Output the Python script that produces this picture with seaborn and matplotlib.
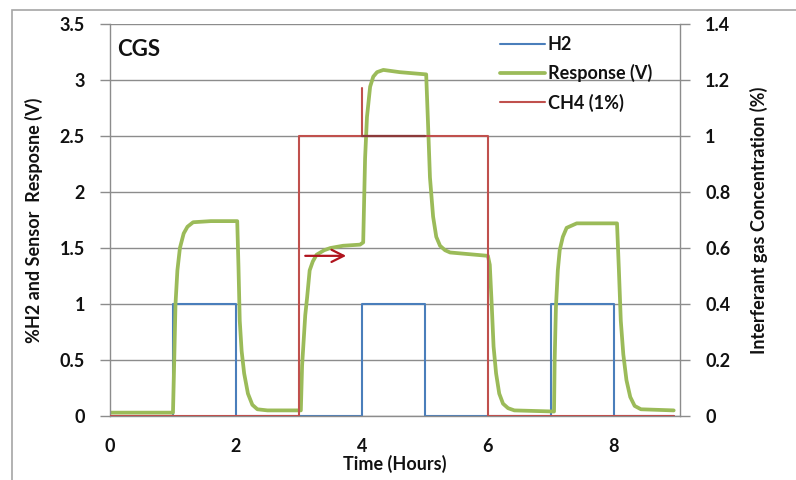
import matplotlib
matplotlib.use("Agg")
import matplotlib.pyplot as plt
from matplotlib.patches import Rectangle
from matplotlib.ticker import FixedLocator, FixedFormatter
import seaborn as sns
import pandas as pd

# ---------------- data ----------------
h2_time = [0.0, 1.0, 1.0, 2.0, 2.0, 4.0, 4.0, 5.0, 5.0, 7.0, 7.0, 8.0, 8.0, 8.95]
h2_value = [0, 0, 1, 1, 0, 0, 1, 1, 0, 0, 1, 1, 0, 0]

resp_time = [0.0, 1.0, 1.02, 1.04, 1.07, 1.11, 1.17, 1.23, 1.32, 1.6, 2.02,
             2.04, 2.06, 2.09, 2.13, 2.19, 2.26, 2.34, 2.5, 3.03,
             3.05, 3.1, 3.13, 3.17, 3.22, 3.28, 3.4, 3.5, 3.7, 3.97, 4.02,
             4.05, 4.08, 4.13, 4.18, 4.24, 4.34, 4.6, 5.02,
             5.05, 5.08, 5.13, 5.18, 5.24, 5.32, 5.4, 6.0,
             6.03, 6.06, 6.09, 6.13, 6.18, 6.24, 6.32, 6.42, 7.05,
             7.06, 7.08, 7.11, 7.14, 7.19, 7.25, 7.41, 8.05,
             8.08, 8.11, 8.15, 8.2, 8.26, 8.33, 8.43, 8.95]
resp_value = [0.03, 0.03, 0.5, 1.0, 1.3, 1.5, 1.63, 1.69, 1.73, 1.74, 1.74,
              1.33, 0.85, 0.58, 0.38, 0.2, 0.1, 0.06, 0.05, 0.05,
              0.45, 0.9, 1.06, 1.3, 1.38, 1.44, 1.48, 1.50, 1.52, 1.53, 1.55,
              2.3, 2.67, 2.94, 3.03, 3.07, 3.09, 3.07, 3.05,
              2.6, 2.13, 1.78, 1.6, 1.52, 1.48, 1.46, 1.43,
              1.35, 1.0, 0.62, 0.38, 0.2, 0.11, 0.07, 0.05, 0.04,
              0.5, 0.97, 1.3, 1.48, 1.6, 1.68, 1.72, 1.72,
              1.3, 0.85, 0.55, 0.32, 0.17, 0.09, 0.06, 0.05]

ch4_time = [0.0, 3.0, 3.0, 6.0, 6.0, 8.95]
ch4_value = [0, 0, 1.0, 1.0, 0, 0]

# annotation marks (right-axis units for CH4 marker, left-axis for arrow)
marker_v_time = [4.0, 4.0]
marker_v_value = [1.0, 1.17]
marker_h_time = [4.0, 5.0]
marker_h_value = [1.0, 1.0]
arrow_time = [3.1, 3.75]
arrow_value = [1.43, 1.43]

left_ticks = [0, 0.5, 1, 1.5, 2, 2.5, 3, 3.5]
left_labels = ["0", "0.5", "1", "1.5", "2", "2.5", "3", "3.5"]
right_ticks = [0, 0.2, 0.4, 0.6, 0.8, 1.0, 1.2, 1.4]
right_labels = ["0", "0.2", "0.4", "0.6", "0.8", "1", "1.2", "1.4"]
x_ticks = [0, 2, 4, 6, 8]
x_labels = ["0", "2", "4", "6", "8"]

labels = ["H2", "Response (V)", "CH4 (1%)"]

# ---------------- style ----------------
sns.set_style("white")
plt.rcParams["font.family"] = ["Lato", "DejaVu Sans"]
plt.rcParams["font.weight"] = "bold"

BLUE = "#4A7EBB"
GREEN = "#9BBB59"
RED = "#C0504D"
DARKRED = "#8C3A3A"
GRID = "#8C8C8C"
TXT = "#111111"
FS = 13

fig = plt.figure(figsize=(7.96, 4.80), dpi=100)
fig.patch.set_facecolor("white")
ax = fig.add_axes([110 / 796, 1 - 416 / 480, 570 / 796, 392 / 480])
ax2 = ax.twinx()

# chart border
fig.patches.append(Rectangle((12 / 796, -0.1), 1.2, 1 - 10 / 480 + 0.1,
                             transform=fig.transFigure, fill=False,
                             edgecolor="#A6A6A6", linewidth=1.2, zorder=0))

df_h2 = pd.DataFrame({"t": h2_time, "v": h2_value})
df_resp = pd.DataFrame({"t": resp_time, "v": resp_value})
df_ch4 = pd.DataFrame({"t": ch4_time, "v": ch4_value})

sns.lineplot(data=df_h2, x="t", y="v", ax=ax, color=BLUE, lw=1.5,
             sort=False, estimator=None, label=labels[0], legend=False)
sns.lineplot(data=df_resp, x="t", y="v", ax=ax, color=GREEN, lw=2.7,
             sort=False, estimator=None, label=labels[1], legend=False)
sns.lineplot(data=df_ch4, x="t", y="v", ax=ax2, color=RED, lw=1.5,
             sort=False, estimator=None, label=labels[2], legend=False)

# annotation marks
ax2.plot(marker_v_time, marker_v_value, color=RED, lw=1.5)
ax2.plot(marker_h_time, marker_h_value, color=DARKRED, lw=1.6)
ax.annotate("", xy=(arrow_time[1], arrow_value[1]),
            xytext=(arrow_time[0], arrow_value[0]),
            arrowprops=dict(arrowstyle="->", color="#B0141E", lw=1.6,
                            mutation_scale=22, shrinkA=0, shrinkB=0))

# axes limits and ticks
ax.set_xlim(0, 9.05)
ax.set_ylim(0, 3.5)
ax2.set_ylim(0, 1.4)
ax.xaxis.set_major_locator(FixedLocator(x_ticks))
ax.xaxis.set_major_formatter(FixedFormatter(x_labels))
ax.yaxis.set_major_locator(FixedLocator(left_ticks))
ax.yaxis.set_major_formatter(FixedFormatter(left_labels))
ax2.yaxis.set_major_locator(FixedLocator(right_ticks))
ax2.yaxis.set_major_formatter(FixedFormatter(right_labels))

ax.grid(axis="y", color=GRID, lw=1.0)
ax.set_axisbelow(True)
ax.grid(axis="x", visible=False)

for a in (ax, ax2):
    for s in a.spines.values():
        s.set_visible(False)
ax.spines["left"].set_visible(True)
ax.spines["bottom"].set_visible(True)
ax2.spines["right"].set_visible(True)
for s in (ax.spines["left"], ax.spines["bottom"], ax2.spines["right"]):
    s.set_color(GRID)
    s.set_linewidth(1.0)

ax.tick_params(axis="y", length=7, width=1, color=GRID, pad=11,
               labelsize=FS, labelcolor=TXT)
ax.tick_params(axis="x", length=5, width=1, color=GRID, pad=11,
               labelsize=FS, labelcolor=TXT)
ax2.tick_params(axis="y", length=7, width=1, color=GRID, pad=11,
                labelsize=FS, labelcolor=TXT)
for lab in ax.get_xticklabels() + ax.get_yticklabels() + ax2.get_yticklabels():
    lab.set_fontweight("bold")

ax.set_xlabel("Time (Hours)", fontsize=FS, fontweight="bold", color=TXT, labelpad=0)
ax.set_ylabel("%H2 and Sensor  Resposne (V)", fontsize=FS, fontweight="bold",
              color=TXT, labelpad=12)
ax2.set_ylabel("Interferant gas Concentration (%)", fontsize=FS,
               fontweight="bold", color=TXT, labelpad=14)

ax.text(0.013, 0.935, "CGS", transform=ax.transAxes, fontsize=16,
        fontweight="bold", color=TXT, ha="left", va="center")

h1, l1 = ax.get_legend_handles_labels()
h2, l2 = ax2.get_legend_handles_labels()
leg = ax2.legend(h1 + h2, l1 + l2, loc="upper left",
                 bbox_to_anchor=(0.668, 0.992), frameon=False, fontsize=FS,
                 handlelength=2.5, handletextpad=0.15, labelspacing=0.62,
                 borderpad=0)
for t in leg.get_texts():
    t.set_fontweight("bold")
    t.set_color(TXT)

ax2.set_zorder(ax.get_zorder() + 1)
ax2.patch.set_visible(False)

fig.savefig("out.png", dpi=100, facecolor="white")
